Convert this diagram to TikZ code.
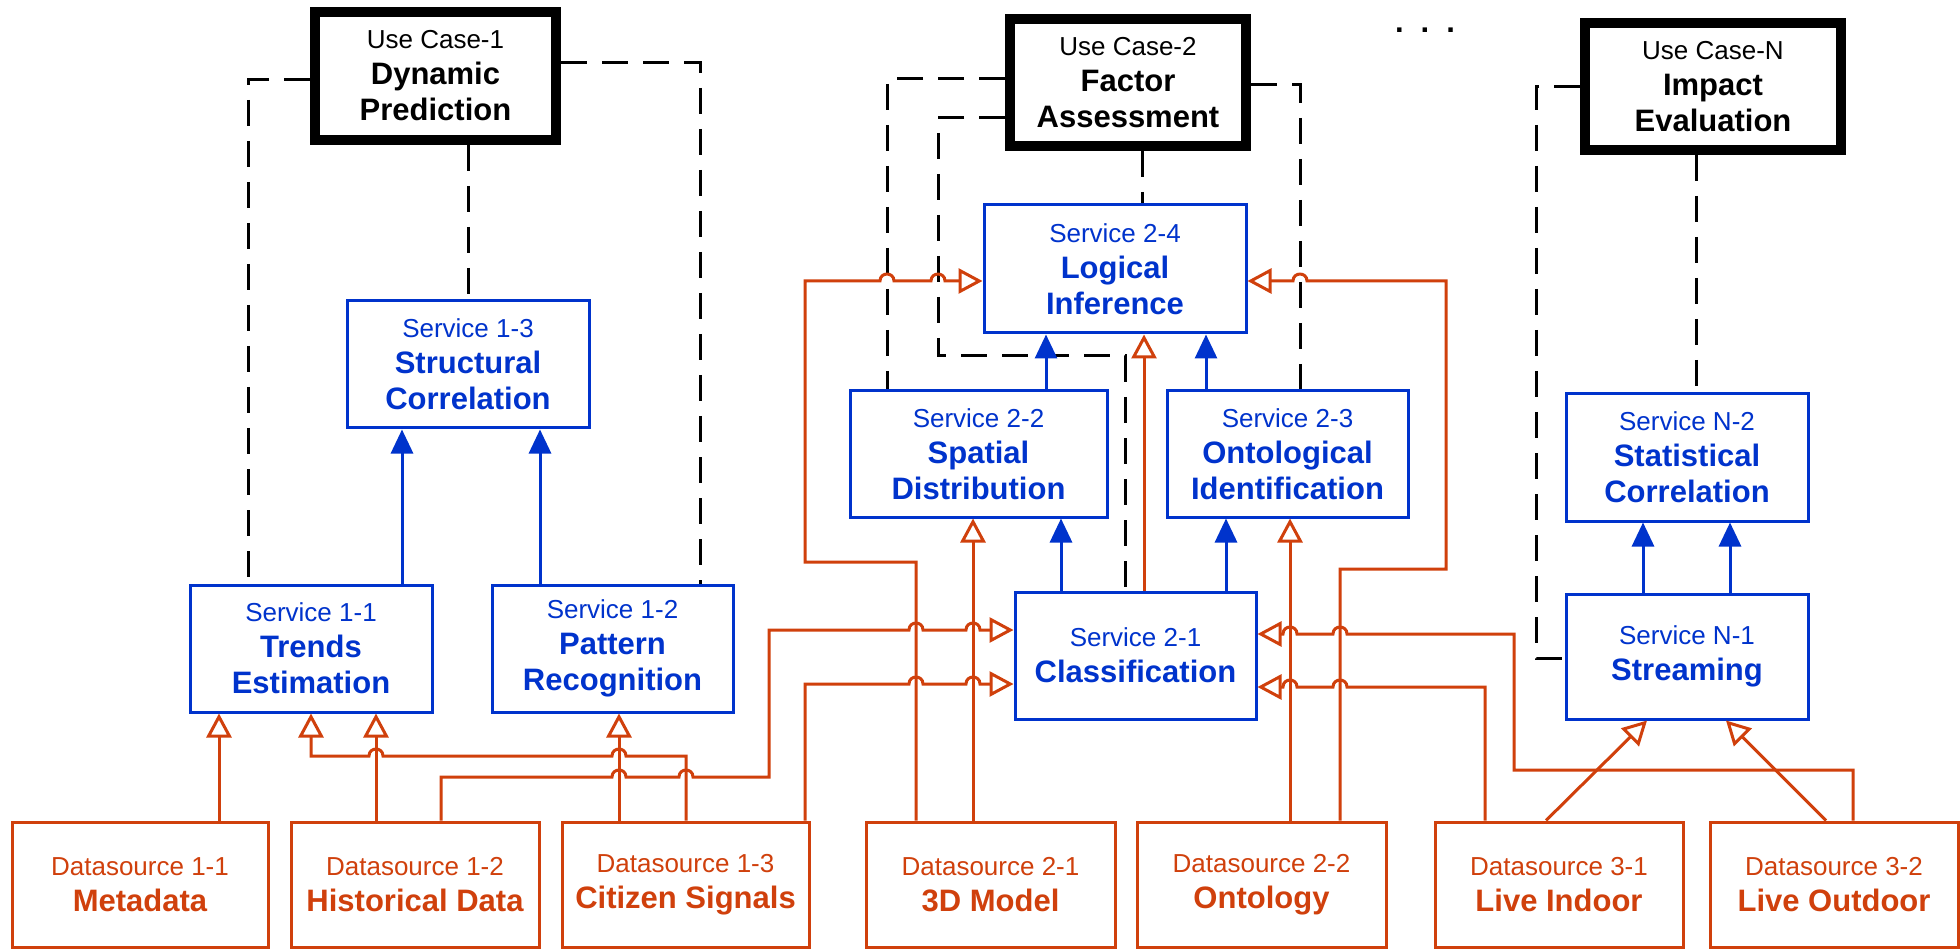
\documentclass[tikz,border=0pt]{standalone}
\usepackage{fontspec}
\setmainfont{Liberation Sans}
\usetikzlibrary{arrows.meta}
\definecolor{ob}{RGB}{208,64,12}
\definecolor{bb}{RGB}{0,51,204}
\newcommand\rf{\fontsize{26}{36}\selectfont\mdseries}
\begin{document}
\begin{tikzpicture}[x=1pt,y=-1pt,
  box/.style={align=center,inner sep=0pt,font=\fontsize{31}{36}\selectfont\bfseries},
  uc/.style={box,draw=black,line width=10pt},
  sv/.style={box,draw=bb,text=bb,line width=3pt,minimum width=241pt,minimum height=127pt},
  ds/.style={box,draw=ob,text=ob,line width=3pt,minimum width=248pt,minimum height=125pt},
  dsh/.style={draw=black,line width=3pt,dash pattern=on 26pt off 15pt},
  barr/.style={draw=bb,line width=3pt,-{Triangle[length=24pt,width=22pt]}},
  oarr/.style={draw=ob,line width=3pt,line join=miter,-{Triangle[open,length=24pt,width=25pt]}},
  hopl/.style args={#1/#2}{insert path={-- ({#1+7},#2) .. controls ({#1+7},{#2-9.3}) and ({#1-7},{#2-9.3}) .. ({#1-7},#2)}},
  hopr/.style args={#1/#2}{insert path={-- ({#1-7},#2) .. controls ({#1-7},{#2-9.3}) and ({#1+7},{#2-9.3}) .. ({#1+7},#2)}}
]
\fill[white] (0,0) rectangle (1960,949);
\useasboundingbox (0,0) rectangle (1960,949);

% use cases
\node[uc,minimum width=241pt,minimum height=128pt] (UC1) at (435.5,76) {{\rf Use Case-1}\\Dynamic\\Prediction};
\node[uc,minimum width=236pt,minimum height=127pt] (UC2) at (1128,82.5) {{\rf Use Case-2}\\Factor\\Assessment};
\node[uc,minimum width=256pt,minimum height=127pt] (UCN) at (1713,86.5) {{\rf Use Case-N}\\Impact\\Evaluation};
\node[font=\fontsize{31}{36}\selectfont\bfseries,anchor=base,inner sep=0pt] (dots) at (1425,33) {.\hspace{17pt}.\hspace{17pt}.};

% services
\node[sv,minimum width=242pt] (S13) at (468,364.5) {{\rf Service 1-3}\\Structural\\Correlation};
\node[sv,minimum width=242pt] (S11) at (311,648.5) {{\rf Service 1-1}\\Trends\\Estimation};
\node[sv] (S12) at (612.5,648.5) {{\rf Service 1-2}\\Pattern\\Recognition};
\node[sv,minimum width=262pt,minimum height=128pt] (S24) at (1115,269) {{\rf Service 2-4}\\Logical\\Inference};
\node[sv,minimum width=257pt,minimum height=126pt] (S22) at (978.5,454) {{\rf Service 2-2}\\Spatial\\Distribution};
\node[sv,minimum height=126pt] (S23) at (1287.5,454) {{\rf Service 2-3}\\Ontological\\Identification};
\node[sv] (S21) at (1135.5,655.5) {{\rf Service 2-1}\\Classification};
\node[sv,minimum width=242pt] (SN2) at (1687,457.5) {{\rf Service N-2}\\Statistical\\Correlation};
\node[sv,minimum width=242pt,minimum height=125pt] (SN1) at (1687,656.5) {{\rf Service N-1}\\Streaming};

% datasources
\node[ds,minimum width=256pt] (D11) at (140,884.5) {{\rf Datasource 1-1}\\Metadata};
\node[ds] (D12) at (415,884.5) {{\rf Datasource 1-2}\\Historical Data};
\node[ds,minimum width=247pt] (D13) at (685.5,884.5) {{\rf Datasource 1-3}\\Citizen Signals};
\node[ds,minimum width=249pt] (D21) at (990.5,884.5) {{\rf Datasource 2-1}\\3D Model};
\node[ds,minimum width=249pt] (D22) at (1261.5,884.5) {{\rf Datasource 2-2}\\Ontology};
\node[ds] (D31) at (1559,884.5) {{\rf Datasource 3-1}\\Live Indoor};
\node[ds] (D32) at (1834,884.5) {{\rf Datasource 3-2}\\Live Outdoor};

% dashed use-case links
\draw[dsh] (UC1.west |- 0,80) -| (248,0 |- S11.north);
\draw[dsh] (UC1.east |- 0,63) -| (700,0 |- S12.north);
\draw[dsh] (468,0 |- UC1.south) -- (468,0 |- S13.north);
\draw[dsh] (UC2.west |- 0,79) -| (887,0 |- S22.north);
\draw[dsh] (UC2.west |- 0,118) -| (938,356) -| (1125,0 |- S21.north);
\draw[dsh] (UC2.east |- 0,85) -| (1300,0 |- S23.north);
\draw[dsh] (1142,0 |- UC2.south) -- (1142,0 |- S24.north);
\draw[dsh] (UCN.west |- 0,87) -| (1536,658) -- (SN1.west |- 0,658);
\draw[dsh] (1696,0 |- UCN.south) -- (1696,0 |- SN2.north);

% blue service links
\draw[barr] (402,0 |- S11.north) -- (402,0 |- S13.south);
\draw[barr] (540,0 |- S12.north) -- (540,0 |- S13.south);
\draw[barr] (1046,0 |- S22.north) -- (1046,0 |- S24.south);
\draw[barr] (1206,0 |- S23.north) -- (1206,0 |- S24.south);
\draw[barr] (1061,0 |- S21.north) -- (1061,0 |- S22.south);
\draw[barr] (1226,0 |- S21.north) -- (1226,0 |- S23.south);
\draw[barr] (1643,0 |- SN1.north) -- (1643,0 |- SN2.south);
\draw[barr] (1730,0 |- SN1.north) -- (1730,0 |- SN2.south);

% orange data links
\draw[oarr] (219,0 |- D11.north) -- (219,0 |- S11.south);
\draw[oarr] (376,0 |- D12.north) -- (376,0 |- S11.south);
\draw[oarr] (686,0 |- D13.north) -- (686,756) [hopl=619/756] [hopl=376/756] -- (311,756) -- (311,0 |- S11.south);
\draw[oarr] (619,0 |- D13.north) -- (619,0 |- S12.south);
\draw[oarr] (441,0 |- D12.north) -- (441,777) [hopr=619/777] [hopr=686/777] -- (769,777) -- (769,630) [hopr=916/630] [hopr=973/630] -- (S21.west |- 0,630);
\draw[oarr] (805,0 |- D13.north) -- (805,684) [hopr=916/684] [hopr=973/684] -- (S21.west |- 0,684);
\draw[oarr] (916,0 |- D21.north) -- (916,562) -- (805,562) -- (805,281) [hopr=887/281] [hopr=938/281] -- (S24.west |- 0,281);
\draw[oarr] (973,0 |- D21.north) -- (973,0 |- S22.south);
\draw[oarr] (1144,0 |- S21.north) -- (1144,0 |- S24.south);
\draw[oarr] (1290,0 |- D22.north) -- (1290,0 |- S23.south);
\draw[oarr] (1340,0 |- D22.north) -- (1340,569) -- (1446,569) -- (1446,281) [hopl=1300/281] -- (S24.east |- 0,281);
\draw[oarr] (1853,0 |- D32.north) -- (1853,770) -- (1514,770) -- (1514,634) [hopl=1340/634] [hopl=1290/634] -- (S21.east |- 0,634);
\draw[oarr] (1485,0 |- D31.north) -- (1485,687) [hopl=1340/687] [hopl=1290/687] -- (S21.east |- 0,687);
\draw[oarr] (1546,0 |- D31.north) -- (1647,0 |- SN1.south);
\draw[oarr] (1826,0 |- D32.north) -- (1726,0 |- SN1.south);
\end{tikzpicture}
\end{document}
